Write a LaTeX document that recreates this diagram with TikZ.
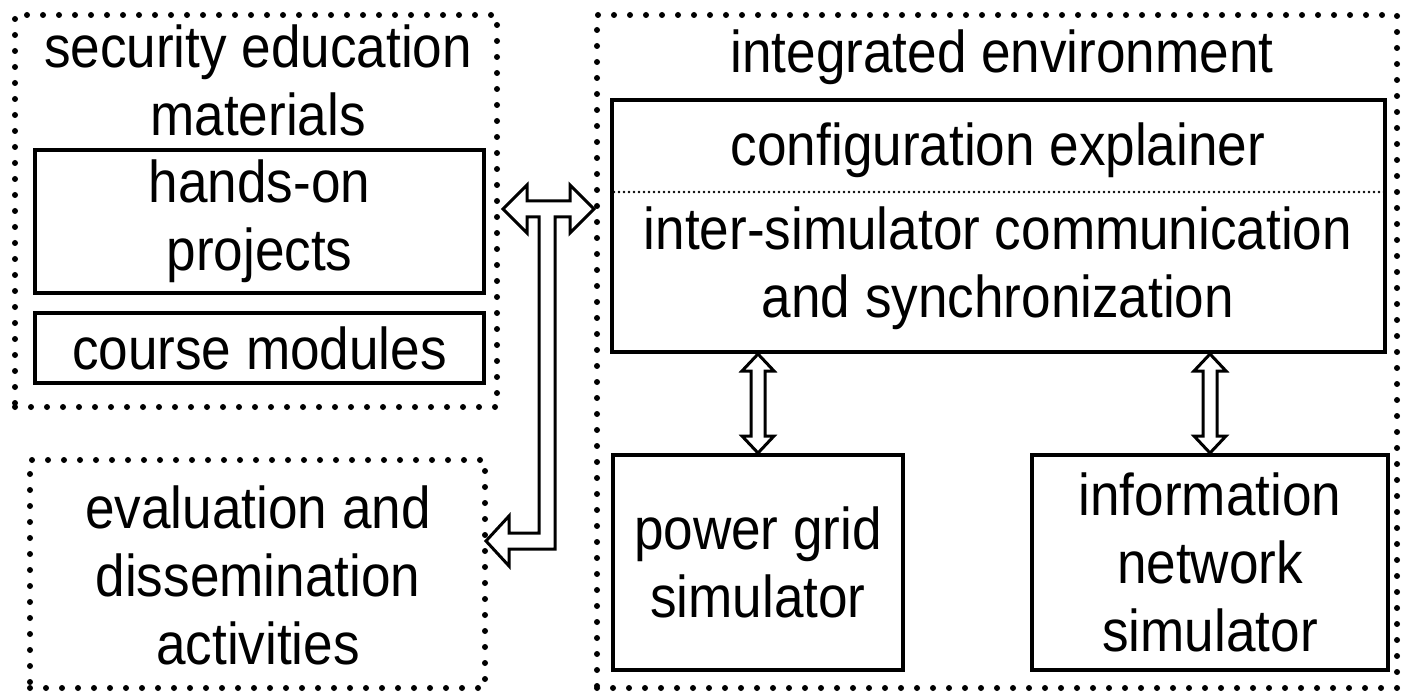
\documentclass[tikz,border=0pt]{standalone}
\usepackage{fontspec}
\setmainfont{Liberation Sans}[FakeStretch=0.9]
\usetikzlibrary{calc,fit}

\tikzset{
  dotbox/.style={draw, line width=3pt, line cap=round, dash pattern=on 0pt off 8pt, inner sep=0pt},
  solidbox/.style={draw, line width=2pt, inner sep=0pt},
  txt/.style={align=center, inner sep=0pt, font=\fontsize{29.5}{34}\selectfont},
  hollow/.style={draw, line width=1.5pt, fill=white, line join=miter},
  finedots/.style={line width=1.4pt, line cap=round, dash pattern=on 0pt off 2.5pt},
}

% outlined double-headed vertical arrow between two points
\newcommand\vdarrow[2]{%
  \path[hollow] (#1) -- ++(16,17) -- ++(-9,0) -- ($(#2)+(7,-17)$) -- ++(9,0)
    -- (#2) -- ++(-16,-17) -- ++(9,0) -- ($(#1)+(-7,17)$) -- ++(-9,0) -- cycle;}

\begin{document}
\begin{tikzpicture}[x=0.5pt, y=-0.5pt]
  \useasboundingbox (0,0) rectangle (1401,695);

  % education materials
  \node[dotbox, fit={(15,15) (497,407)}] (sec) {};
  \node[txt] (secT) at (258,80) {security education\\materials};
  \node[solidbox, fit={(35,150) (484,293)}] (hop) {};
  \node[txt] (hopT) at (hop.center) {hands-on\\projects};
  \node[solidbox, fit={(35,313) (484,383)}] (cm) {};
  \node[txt] (cmT) at (cm.center) {course modules};

  % evaluation
  \node[dotbox, fit={(30,460) (485,688)}] (eval) {};
  \node[txt] (evalT) at (258,575) {evaluation and\\dissemination\\activities};

  % integrated environment
  \node[dotbox, fit={(597,15) (1397,688)}] (env) {};
  \node[txt] (envT) at (1002,57) {integrated environment};
  \node[solidbox, fit={(612,100) (1385,352)}] (cfg) {};
  \node[txt] (cfgT) at (998,150) {configuration explainer};
  \draw[finedots] (cfg.west |- 0,192) ++(4,0) -- ($(cfg.east |- 0,192)+(-3,0)$);
  \node[txt] (iscT) at (998,268) {inter-simulator communication\\and synchronization};

  \node[solidbox, fit={(613,455) (903,670)}] (pg) {};
  \node[txt] (pgT) at (pg.center) {power grid\\simulator};
  \node[solidbox, fit={(1032,455) (1388,670)}] (inf) {};
  \node[txt] (infT) at (1210,562) {information\\network\\simulator};

  % simulator links
  \coordinate (pgTop) at (pg.north |- cfg.south);
  \coordinate (infTop) at (inf.north |- cfg.south);
  \vdarrow{pgTop}{pg.north}
  \vdarrow{infTop}{inf.north}

  % three-way link between materials, environment and evaluation
  \coordinate (tipL) at ($(sec.east)+(3,-2)$);
  \coordinate (tipR) at (env.west |- tipL);
  \coordinate (tipB) at ($(eval.east)+(-2,-33)$);
  \coordinate (stem) at ($(sec.east)!0.5!(env.west)$);
  \path[hollow] (tipL) -- ++(24,-24) -- ++(0,16) -- ($(tipR)+(-24,-8)$) -- ++(0,-16)
    -- (tipR) -- ++(-24,24) -- ++(0,-16) -- ($(stem |- tipL)+(8,8)$)
    -- ($(stem |- tipB)+(8,8)$) -- ($(tipB)+(23,8)$) -- ++(0,17)
    -- (tipB) -- ++(23,-25) -- ++(0,17) -- ($(stem |- tipB)+(-8,-8)$)
    -- ($(stem |- tipL)+(-8,8)$) -- ($(tipL)+(24,8)$) -- ++(0,16) -- cycle;
\end{tikzpicture}
\end{document}
